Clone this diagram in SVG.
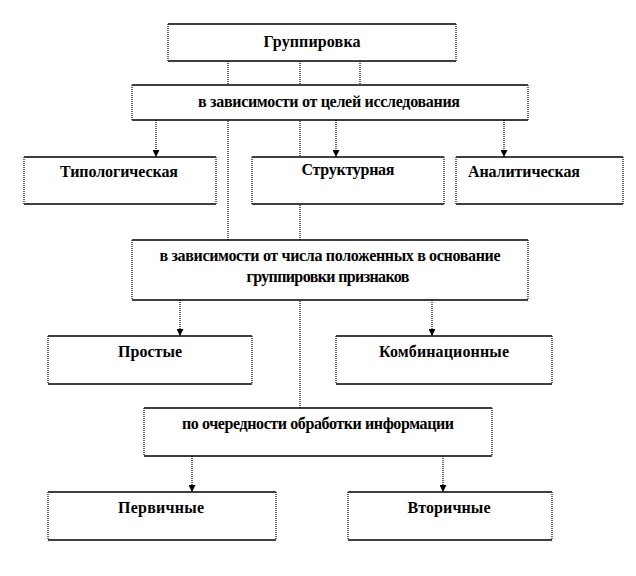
<svg xmlns="http://www.w3.org/2000/svg" width="636" height="576" viewBox="0 0 636 576">
<style>
.bg{fill:#fff;stroke:none}
.hb{stroke:#000;stroke-width:1.3;fill:none}
.vb{stroke:#333;stroke-width:1.5;stroke-dasharray:1 1;fill:none}
.cn{stroke:#333;stroke-width:1.5;stroke-dasharray:1 1;fill:none}
text{font-family:"Liberation Serif","Times New Roman",serif;font-weight:bold;font-size:16px;fill:#000}
.c{text-anchor:middle}
</style>
<defs>
<marker id="ah" markerUnits="userSpaceOnUse" markerWidth="8" markerHeight="7" refX="7" refY="3.5" orient="auto">
<path d="M0,0 L7,3.5 L0,7 Z" fill="#000"/>
</marker>
</defs>
<rect width="636" height="576" fill="#fff"/>
<g id="connectors">
<line class="cn" x1="228" y1="61" x2="228" y2="240"/>
<line class="cn" x1="300" y1="61" x2="300" y2="408"/>
<line class="cn" x1="360" y1="61" x2="360" y2="85"/>
<line class="cn" x1="156" y1="120" x2="156" y2="157" marker-end="url(#ah)"/>
<line class="cn" x1="336" y1="120" x2="336" y2="157" marker-end="url(#ah)"/>
<line class="cn" x1="504" y1="120" x2="504" y2="157" marker-end="url(#ah)"/>
<line class="cn" x1="180" y1="300" x2="180" y2="336" marker-end="url(#ah)"/>
<line class="cn" x1="432" y1="300" x2="432" y2="336" marker-end="url(#ah)"/>
<line class="cn" x1="192" y1="456" x2="192" y2="492" marker-end="url(#ah)"/>
<line class="cn" x1="443" y1="456" x2="443" y2="492" marker-end="url(#ah)"/>
</g>
<g id="n-gruppirovka">
<rect class="bg" x="168" y="24" width="288" height="37"/>
<path class="hb" d="M168,24H456M168,61H456"/>
<path class="vb" d="M168,24V61M456,24V61"/>
<text class="c" x="312" y="47" textLength="97">Группировка</text>
</g>
<g id="n-celi">
<rect class="bg" x="132" y="85" width="396" height="35"/>
<path class="hb" d="M132,85H528M132,120H528"/>
<path class="vb" d="M132,85V120M528,85V120"/>
<text class="c" x="329" y="107" textLength="262">в зависимости от целей исследования</text>
</g>
<g id="n-tipolog">
<rect class="bg" x="24" y="157" width="192" height="47"/>
<path class="hb" d="M24,157H216M24,204H216"/>
<path class="vb" d="M24,157V204M216,157V204"/>
<text class="c" x="119" y="177" textLength="118">Типологическая</text>
</g>
<g id="n-struktur">
<rect class="bg" x="252" y="157" width="192" height="47"/>
<path class="hb" d="M252,157H444M252,204H444"/>
<path class="vb" d="M252,157V204M444,157V204"/>
<text class="c" x="348" y="175" textLength="93">Структурная</text>
</g>
<g id="n-analit">
<rect class="bg" x="456" y="157" width="167" height="47"/>
<path class="hb" d="M456,157H623M456,204H623"/>
<path class="vb" d="M456,157V204M623,157V204"/>
<text x="468" y="177" textLength="112">Аналитическая</text>
</g>
<g id="n-chisla">
<rect class="bg" x="132" y="240" width="396" height="60"/>
<path class="hb" d="M132,240H528M132,300H528"/>
<path class="vb" d="M132,240V300M528,240V300"/>
<text class="c" x="330" y="261" textLength="341">в зависимости от числа положенных в основание</text>
<text class="c" x="328" y="282" textLength="163">группировки признаков</text>
</g>
<g id="n-prostye">
<rect class="bg" x="48" y="336" width="204" height="48"/>
<path class="hb" d="M48,336H252M48,384H252"/>
<path class="vb" d="M48,336V384M252,336V384"/>
<text class="c" x="150" y="357" textLength="64">Простые</text>
</g>
<g id="n-kombin">
<rect class="bg" x="336" y="336" width="216" height="48"/>
<path class="hb" d="M336,336H552M336,384H552"/>
<path class="vb" d="M336,336V384M552,336V384"/>
<text class="c" x="444" y="357" textLength="130">Комбинационные</text>
</g>
<g id="n-ocherednost">
<rect class="bg" x="144" y="408" width="348" height="48"/>
<path class="hb" d="M144,408H492M144,456H492"/>
<path class="vb" d="M144,408V456M492,408V456"/>
<text class="c" x="318" y="429" textLength="272">по очередности обработки информации</text>
</g>
<g id="n-pervichnye">
<rect class="bg" x="48" y="492" width="228" height="48"/>
<path class="hb" d="M48,492H276M48,540H276"/>
<path class="vb" d="M48,492V540M276,492V540"/>
<text class="c" x="161" y="513" textLength="86">Первичные</text>
</g>
<g id="n-vtorichnye">
<rect class="bg" x="348" y="492" width="204" height="48"/>
<path class="hb" d="M348,492H552M348,540H552"/>
<path class="vb" d="M348,492V540M552,492V540"/>
<text class="c" x="449" y="513" textLength="83">Вторичные</text>
</g>
</svg>
